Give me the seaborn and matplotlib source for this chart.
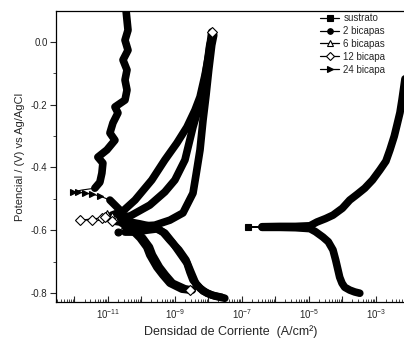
import numpy as np
import matplotlib.pyplot as plt
import matplotlib.ticker as mticker
from matplotlib.lines import Line2D
import seaborn as sns

sns.set_style("ticks")
plt.rcParams['font.family'] = ['Liberation Sans', 'DejaVu Sans']
plt.rcParams['mathtext.default'] = 'regular'
plt.rcParams['axes.unicode_minus'] = False

# log10 of current density (A/cm2) and potential (V vs Ag/AgCl)
sus_logi = [-3.48, -3.63, -3.78, -3.93, -4.01, -4.08, -4.13, -4.20, -4.28, -4.42, -4.58, -4.80, -4.97,
            -5.40, -5.87, -6.40, -6.82, -6.40, -5.87, -5.40, -4.97, -4.76, -4.50, -4.28, -4.00, -3.78,
            -3.55, -3.33, -3.10, -2.88, -2.70, -2.58, -2.45, -2.37, -2.28, -2.22, -2.16, -2.08]
sus_E = [-0.801, -0.797, -0.791, -0.782, -0.769, -0.750, -0.727, -0.695, -0.663, -0.637, -0.622, -0.605, -0.595,
         -0.592, -0.591, -0.591, -0.590, -0.589, -0.588, -0.588, -0.586, -0.574, -0.563, -0.552, -0.530, -0.504,
         -0.485, -0.466, -0.440, -0.408, -0.380, -0.344, -0.300, -0.265, -0.225, -0.185, -0.140, -0.080]

b2_logi = [-7.51, -7.81, -8.04, -8.25, -8.46, -8.55, -8.64, -8.85, -9.06, -9.30, -9.54, -9.84, -10.19, -10.49,
           -10.70, -10.49, -10.04, -9.60, -9.15, -8.76, -8.46, -8.37, -8.25, -8.16, -8.07, -7.99, -7.90, -7.84]
b2_E = [-0.817, -0.810, -0.801, -0.785, -0.759, -0.734, -0.705, -0.673, -0.641, -0.609, -0.596, -0.600, -0.606, -0.606,
        -0.606, -0.587, -0.587, -0.584, -0.568, -0.545, -0.482, -0.424, -0.344, -0.249, -0.169, -0.089, -0.010, 0.022]

b6_logi = [-8.48, -8.70, -9.07, -9.28, -9.46, -9.67, -9.76, -9.96, -10.26, -10.56, -10.80, -11.03, -10.88,
           -10.79, -10.34, -9.75, -9.30, -9.00, -8.70, -8.46, -8.31, -8.16, -8.04, -7.96, -7.87]
b6_E = [-0.791, -0.787, -0.769, -0.743, -0.718, -0.679, -0.654, -0.625, -0.593, -0.574, -0.560, -0.546, -0.552,
        -0.558, -0.555, -0.520, -0.478, -0.440, -0.376, -0.271, -0.217, -0.153, -0.073, -0.010, 0.022]

b12_logi = [-8.55, -8.79, -9.15, -9.36, -9.54, -9.75, -9.84, -10.04, -10.34, -10.64, -10.88, -11.48, -11.84,
            -11.18, -11.09, -10.88, -10.55, -10.19, -9.69, -9.30, -8.94, -8.64, -8.40, -8.25, -8.10, -7.99, -7.90]
b12_E = [-0.791, -0.788, -0.769, -0.743, -0.718, -0.679, -0.654, -0.625, -0.593, -0.574, -0.570, -0.568, -0.568,
         -0.561, -0.558, -0.552, -0.539, -0.504, -0.440, -0.376, -0.322, -0.271, -0.217, -0.175, -0.105, -0.041, 0.032]

b24_logi = [-7.60, -7.90, -8.16, -8.37, -8.52, -8.67, -8.88, -9.15, -9.36, -9.54, -9.75, -10.04, -10.34, -10.49,
            -10.64, -10.79, -10.94, -11.24, -11.48, -11.69, -11.90, -12.04, -11.78, -11.39, -11.24, -11.18, -11.15,
            -11.30, -11.03, -10.79, -10.94, -10.85, -10.70, -10.79, -10.49, -10.43, -10.49, -10.43, -10.55, -10.40,
            -10.49, -10.40, -10.43, -10.46, -10.46]
b24_E = [-0.814, -0.807, -0.794, -0.772, -0.734, -0.695, -0.663, -0.632, -0.606, -0.593, -0.587, -0.580, -0.574, -0.568,
         -0.536, -0.520, -0.504, -0.491, -0.485, -0.482, -0.478, -0.478, -0.472, -0.466, -0.447, -0.418, -0.386,
         -0.367, -0.344, -0.313, -0.290, -0.258, -0.226, -0.207, -0.185, -0.153, -0.121, -0.089, -0.057, -0.026,
         0.006, 0.038, 0.070, 0.102, 0.118]

labels = ['sustrato', '2 bicapas', '6 bicapas', '12 bicapa', '24 bicapa']
xtick_vals = [1e-12, 1e-11, 1e-10, 1e-9, 1e-8, 1e-7, 1e-6, 1e-5, 1e-4, 1e-3]
xtick_labels = ['', '$10^{-11}$', '', '$10^{-9}$', '', '$10^{-7}$', '', '$10^{-5}$', '', '$10^{-3}$']

# (logi, E, end of cathodic band, start of anodic band, sparse points with visible markers, marker, face)
series = [
    (sus_logi, sus_E, 16, 17, [16], 's', 'k'),
    (b2_logi, b2_E, 14, 15, [14], 'o', 'k'),
    (b6_logi, b6_E, 11, 13, [10, 11, 12], '^', 'white'),
    (b12_logi, b12_E, 11, 15, [0, 10, 11, 12, 13, 14, 26], 'D', 'white'),
    (b24_logi, b24_E, 17, 23, [17, 18, 19, 20, 21], '>', 'k'),
]

fig = plt.figure(figsize=(4.04, 3.45), dpi=100)
ax = fig.add_axes([56 / 404, 43 / 345, 350 / 404, 291 / 345])
ax.set_xscale('log')

for logi, E, n_cat, i_ano, marks, mk, face in series:
    cur = 10.0 ** np.array(logi)
    pot = np.array(E)
    sns.lineplot(x=cur, y=pot, sort=False, estimator=None, color='k', lw=0.8, ax=ax)
    seg = np.full(len(cur), -1)
    seg[:n_cat] = 0
    seg[i_ano:] = 1
    keep = seg >= 0
    sns.lineplot(x=cur[keep], y=pot[keep], units=seg[keep], sort=False, estimator=None,
                 color='k', lw=5.5, ax=ax, legend=False)

for logi, E, n_cat, i_ano, marks, mk, face in series:
    cur = 10.0 ** np.array(logi)
    pot = np.array(E)
    ax.plot(cur[marks], pot[marks], ls='none', marker=mk, ms=5, mfc=face, mec='k', mew=0.8)

ax.set_xlim(10 ** -12.55, 10 ** -2.10)
ax.set_ylim(-0.829, 0.099)

ax.set_xticks(xtick_vals)
ax.set_xticklabels(xtick_labels)
ax.xaxis.set_minor_locator(mticker.LogLocator(base=10, subs=np.arange(2, 10), numticks=30))
ax.xaxis.set_minor_formatter(mticker.NullFormatter())
ax.yaxis.set_major_locator(mticker.MultipleLocator(0.2))
ax.yaxis.set_minor_locator(mticker.MultipleLocator(0.1))
ax.yaxis.set_major_formatter(mticker.FormatStrFormatter('%.1f'))

ax.tick_params(axis='x', which='major', direction='in', length=4, width=0.8, labelsize=7, pad=4)
ax.tick_params(axis='x', which='minor', direction='in', length=2, width=0.6)
ax.tick_params(axis='y', which='major', direction='out', length=4, width=0.8, labelsize=7, pad=2)
ax.tick_params(axis='y', which='minor', direction='out', length=2.5, width=0.6)
for s in ax.spines.values():
    s.set_linewidth(0.9)
    s.set_color('k')

ax.set_xlabel('Densidad de Corriente  (A/cm²)', fontsize=9, labelpad=3)
ax.set_ylabel('Potencial / (V) vs Ag/AgCl', fontsize=8, labelpad=4)

handles = [Line2D([], [], color='k', lw=0.9, marker=mk, ms=4, mfc=face, mec='k', mew=0.8)
           for _, _, _, _, _, mk, face in series]
ax.legend(handles, labels, loc='upper left', bbox_to_anchor=(320 / 404, 1 - 13 / 345),
          bbox_transform=fig.transFigure, frameon=False, fontsize=7, handlelength=2.0,
          handletextpad=0.4, labelspacing=0.3, borderpad=0, borderaxespad=0)

fig.savefig('out.png', dpi=100)
